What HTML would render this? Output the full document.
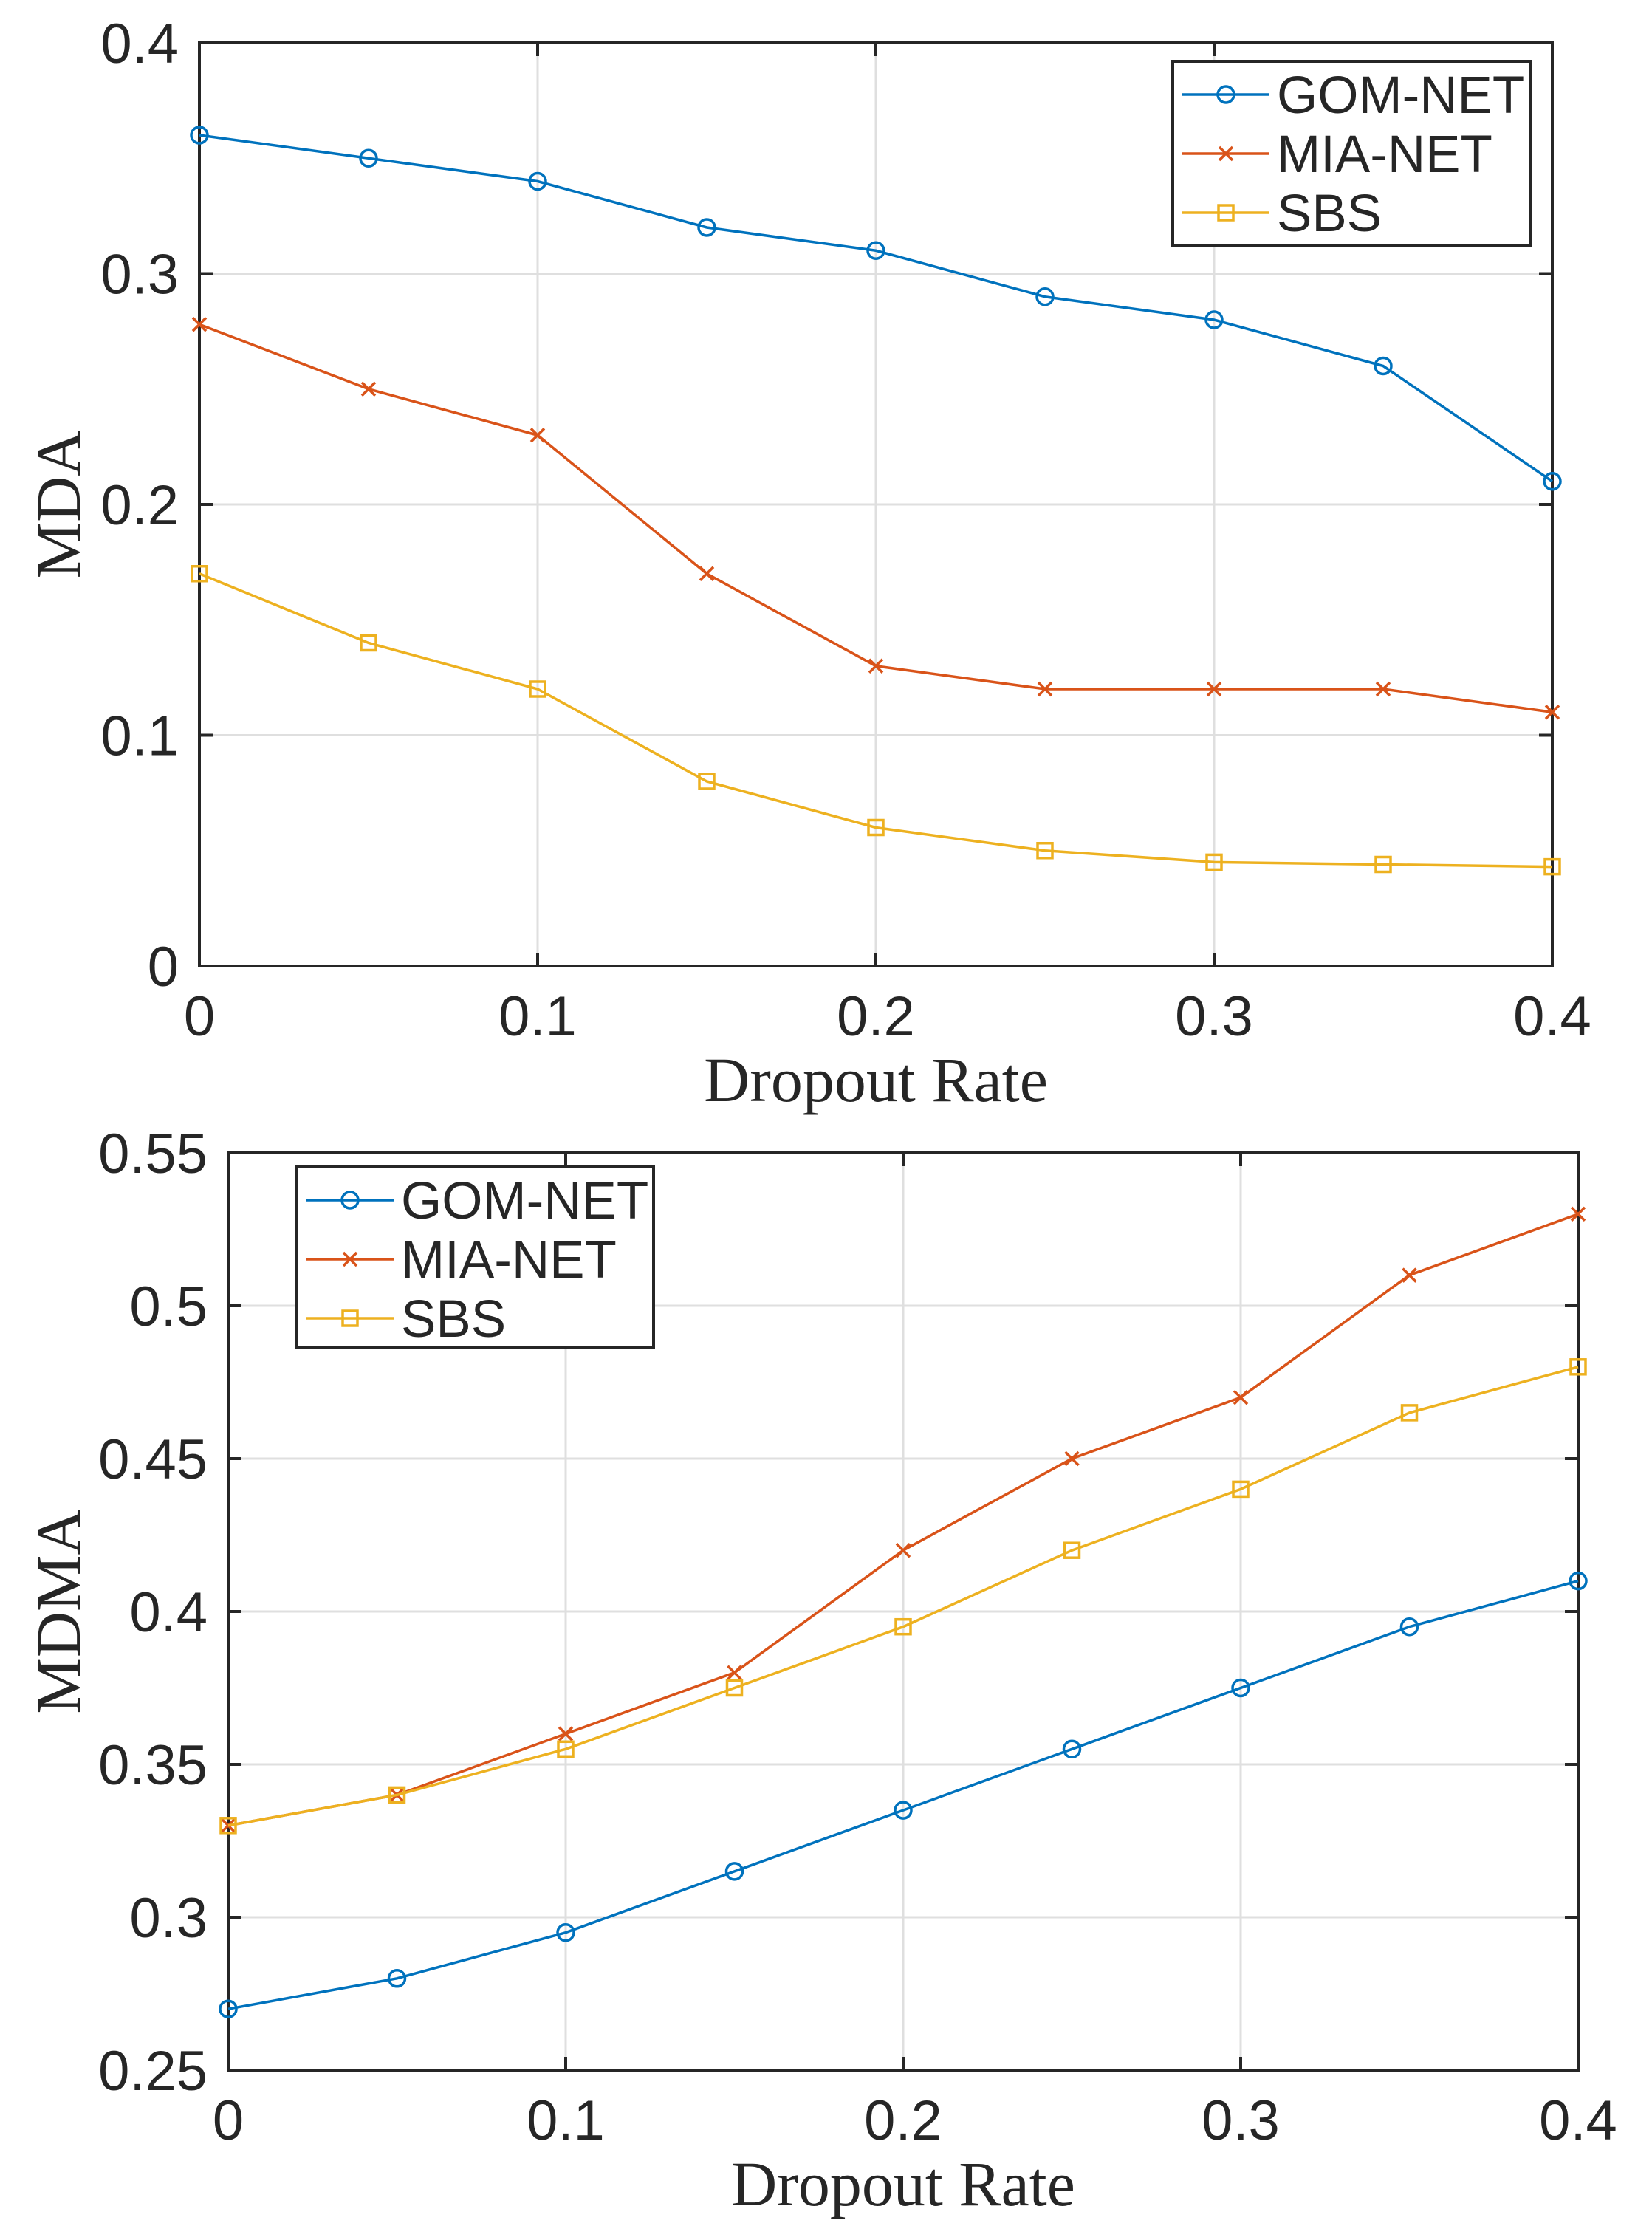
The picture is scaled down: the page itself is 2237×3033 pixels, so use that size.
<!DOCTYPE html>
<html><head><meta charset="utf-8"><style>
html,body{margin:0;padding:0;background:#fff;}
svg{display:block;}
text{fill:#262626;}
</style></head><body>
<svg id="fig" width="2237" height="3033" viewBox="0 0 2237 3033" xmlns="http://www.w3.org/2000/svg"></svg>
<script>
const xValues = [0,0.05,0.1,0.15,0.2,0.25,0.3,0.35,0.4];
const xTicks = [0,0.1,0.2,0.3,0.4];
const xTickLabels = ["0","0.1","0.2","0.3","0.4"];
const seriesNames = ["GOM-NET","MIA-NET","SBS"];
const mdaGom = [0.36,0.35,0.34,0.32,0.31,0.29,0.28,0.26,0.21];
const mdaMia = [0.278,0.25,0.23,0.17,0.13,0.12,0.12,0.12,0.11];
const mdaSbs = [0.17,0.14,0.12,0.08,0.06,0.05,0.045,0.044,0.043];
const mdaTicks = [0,0.1,0.2,0.3,0.4];
const mdaTickLabels = ["0","0.1","0.2","0.3","0.4"];
const mdmaGom = [0.27,0.28,0.295,0.315,0.335,0.355,0.375,0.395,0.41];
const mdmaMia = [0.33,0.34,0.36,0.38,0.42,0.45,0.47,0.51,0.53];
const mdmaSbs = [0.33,0.34,0.355,0.375,0.395,0.42,0.44,0.465,0.48];
const mdmaTicks = [0.25,0.3,0.35,0.4,0.45,0.5,0.55];
const mdmaTickLabels = ["0.25","0.3","0.35","0.4","0.45","0.5","0.55"];

const NS="http://www.w3.org/2000/svg";
const svg=document.getElementById('fig');
const colors=["#0072BD","#D95319","#EDB120"];
const markers=["circle","x","square"];
function mk(tag,attrs,parent){const e=document.createElementNS(NS,tag);for(const k in attrs)e.setAttribute(k,attrs[k]);(parent||svg).appendChild(e);return e;}
function marker(g,type,x,y,c){
  let m;
  if(type==="circle"){m=mk('circle',{cx:x,cy:y,r:11,fill:'none',stroke:c,'stroke-width':3.5},g);}
  else if(type==="x"){m=mk('path',{d:`M${x-9} ${y-9}L${x+9} ${y+9}M${x-9} ${y+9}L${x+9} ${y-9}`,stroke:c,'stroke-width':3.5,fill:'none'},g);}
  else {m=mk('rect',{x:x-10,y:y-10,width:20,height:20,fill:'none',stroke:c,'stroke-width':3.5},g);}
  return m;
}
function chart(cfg){
  const {L,R,T,B,ymin,ymax,yTicks,yLabels,series,yTitle,legend,name}=cfg;
  const g=mk('g',{});
  
  
  const sx=v=>L+(v-0)/(0.4-0)*(R-L);
  const sy=v=>B-(v-ymin)/(ymax-ymin)*(B-T);
  xTicks.forEach(t=>{const l=mk('line',{x1:sx(t),x2:sx(t),y1:T,y2:B,stroke:'#dfdfdf','stroke-width':3},g);
    });
  yTicks.forEach(t=>{const l=mk('line',{x1:L,x2:R,y1:sy(t),y2:sy(t),stroke:'#dfdfdf','stroke-width':3},g);
    });
  const box=mk('rect',{x:L,y:T,width:R-L,height:B-T,fill:'none',stroke:'#262626','stroke-width':4},g);
  
  xTicks.forEach((t,i)=>{
    mk('line',{x1:sx(t),x2:sx(t),y1:B,y2:B-18,stroke:'#262626','stroke-width':4},g);
    mk('line',{x1:sx(t),x2:sx(t),y1:T,y2:T+18,stroke:'#262626','stroke-width':4},g);
    const tx=mk('text',{x:sx(t),y:B+94,'font-family':'Liberation Sans, sans-serif','font-size':76,'text-anchor':'middle'},g);
    tx.textContent=xTickLabels[i];
    
  });
  yTicks.forEach((t,i)=>{
    mk('line',{x1:L,x2:L+18,y1:sy(t),y2:sy(t),stroke:'#262626','stroke-width':4},g);
    mk('line',{x1:R,x2:R-18,y1:sy(t),y2:sy(t),stroke:'#262626','stroke-width':4},g);
    const tx=mk('text',{x:L-28,y:sy(t)+27,'font-family':'Liberation Sans, sans-serif','font-size':76,'text-anchor':'end'},g);
    tx.textContent=yLabels[i];
    
  });
  const xt=mk('text',{x:(L+R)/2,y:B+183,'font-family':'Liberation Serif, serif','font-size':86,'text-anchor':'middle'},g);
  xt.textContent='Dropout Rate';
  
  const yt=mk('text',{x:0,y:0,'font-family':'Liberation Serif, serif','font-size':86,'text-anchor':'middle',transform:`translate(108 ${(T+B)/2}) rotate(-90)`},g);
  yt.textContent=yTitle;
  
  series.forEach((vals,s)=>{
    const sg=mk('g',{},g);
    
    
    const pts=vals.map((v,i)=>sx(xValues[i])+','+sy(v)).join(' ');
    const pl=mk('polyline',{points:pts,fill:'none',stroke:colors[s],'stroke-width':3.5},sg);
    
    
    vals.forEach((v,i)=>{const m=marker(sg,markers[s],sx(xValues[i]),sy(v),colors[s]);
      });
  });
  const lg=mk('g',{},g);
  
  
  mk('rect',{x:legend.x,y:legend.y,width:legend.w,height:legend.h,fill:'#fff',stroke:'#262626','stroke-width':4},lg);
  seriesNames.forEach((n,s)=>{
    const ey=legend.y+30+s*80;
    const eg=mk('g',{},lg);
    
    
    mk('line',{x1:legend.x+13,x2:legend.x+131,y1:ey+15,y2:ey+15,stroke:colors[s],'stroke-width':3.5},eg);
    marker(eg,markers[s],legend.x+72,ey+15,colors[s]);
    const t=mk('text',{x:legend.x+141,y:ey+40,'font-family':'Liberation Sans, sans-serif','font-size':71,fill:'#000'},eg);
    t.textContent=n;
  });
}
chart({name:'mda-chart',L:270,R:2102,T:58,B:1308,ymin:0,ymax:0.4,yTicks:mdaTicks,yLabels:mdaTickLabels,
  series:[mdaGom,mdaMia,mdaSbs],yTitle:'MDA',legend:{x:1588,y:83,w:485,h:249}});
chart({name:'mdma-chart',L:309,R:2137,T:1561,B:2803,ymin:0.25,ymax:0.55,yTicks:mdmaTicks,yLabels:mdmaTickLabels,
  series:[mdmaGom,mdmaMia,mdmaSbs],yTitle:'MDMA',legend:{x:402,y:1580,w:483,h:244}});
</script>
</body></html>
